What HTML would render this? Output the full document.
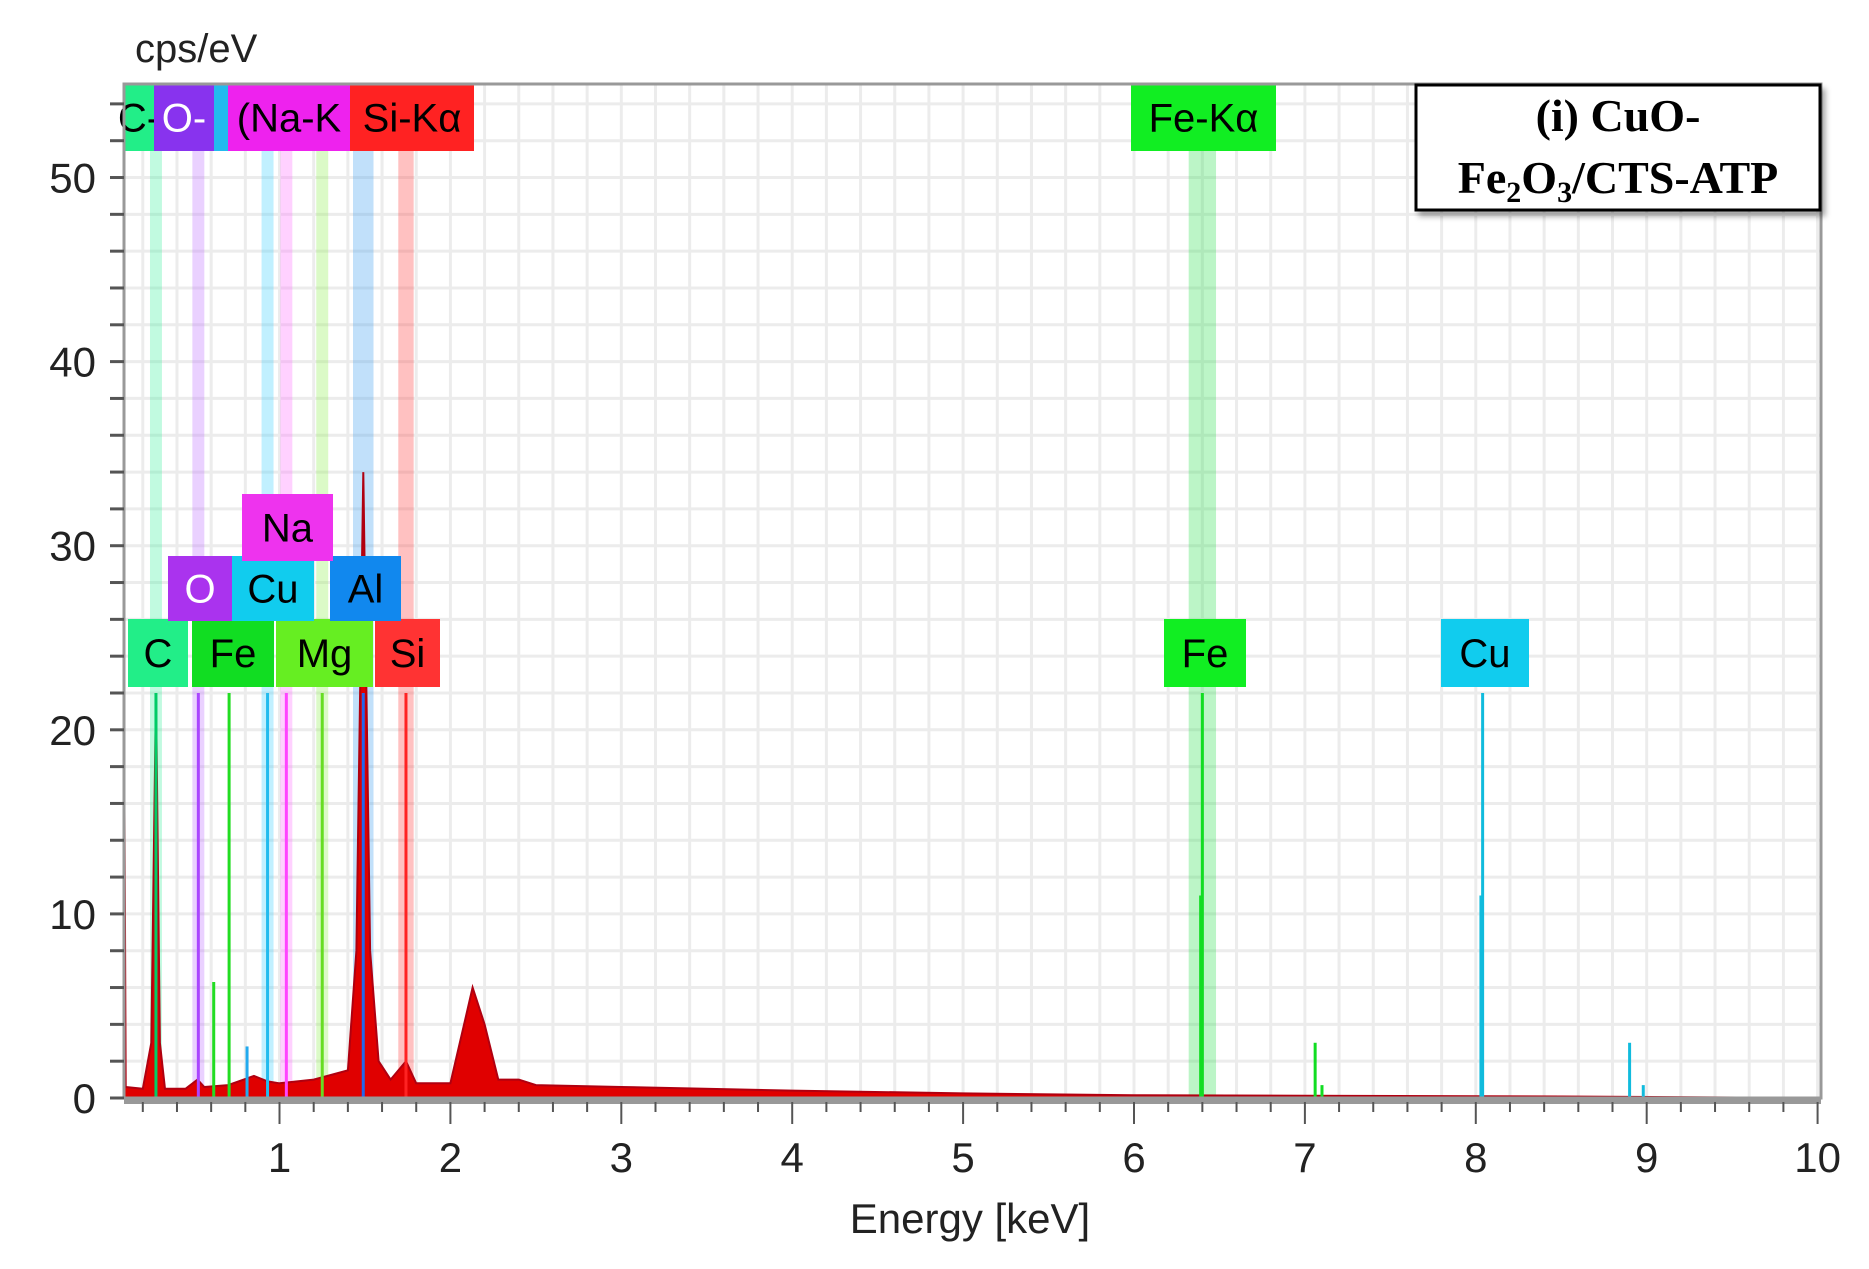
<!DOCTYPE html>
<html><head><meta charset="utf-8"><style>
body{margin:0;background:#fff;}
svg{display:block;font-family:"Liberation Sans",sans-serif;}
</style></head><body>
<svg id="chart" width="1869" height="1269" viewBox="0 0 1869 1269" xmlns="http://www.w3.org/2000/svg">
<g id="grid"></g>
<g id="bands"></g>
<g id="spec"></g>
<g id="lines"></g>
<g id="labels"></g>
<g id="axes"></g>
<text x="135" y="62" font-size="40" fill="#222">cps/eV</text>
<text x="970" y="1233" font-size="42" fill="#222" text-anchor="middle">Energy [keV]</text>
<g>
<rect x="1416" y="85" width="404" height="125" fill="#fff" stroke="#000" stroke-width="3" filter="drop-shadow(4px 5px 3px rgba(0,0,0,0.35))"/>
<text x="1618" y="131" font-family="'Liberation Serif',serif" font-weight="bold" font-size="46" text-anchor="middle">(i) CuO-</text>
<text x="1618" y="193" font-family="'Liberation Serif',serif" font-weight="bold" font-size="46" text-anchor="middle">Fe<tspan font-size="30" dy="9">2</tspan><tspan dy="-9">O</tspan><tspan font-size="30" dy="9">3</tspan><tspan dy="-9">/CTS-ATP</tspan></text>
</g>
</svg>
<script>
const specE=[0.09,0.1,0.2,0.25,0.277,0.3,0.33,0.45,0.52,0.56,0.7,0.85,0.93,1.0,1.2,1.4,1.45,1.49,1.53,1.58,1.65,1.74,1.8,2.0,2.08,2.13,2.2,2.28,2.4,2.5,3,4,5,6,7,8,8.5,10];
const specC=[22,0.6,0.5,3,22,3,0.5,0.5,1,0.6,0.7,1.2,0.9,0.8,1,1.5,8,34,8,2,1,2,0.8,0.8,4,6,4,1,1,0.7,0.6,0.4,0.25,0.15,0.12,0.1,0.08,0];
const bandE=[0.277,0.525,0.93,1.04,1.25,1.49,1.74,6.4];
const bandColor=['#33ee99','#bb66ff','#33ccff','#ff66ff','#88ee44','#3399ee','#ff3333','#22dd44'];
const bandW=[0.07,0.07,0.07,0.07,0.07,0.12,0.09,0.16];
const lineE=[0.277,0.525,0.615,0.705,0.81,0.93,1.04,1.25,1.49,1.74,6.4,6.39,7.06,7.1,8.04,8.03,8.9,8.98];
const lineH=[22,22,6.3,22,2.8,22,22,22,22,22,22,11,3,0.7,22,11,3,0.7];
const lineColor=['#00cc66','#aa44ff','#22dd22','#22dd22','#22aaee','#22bbee','#ff44ff','#66dd22','#2266ee','#ff2222','#11dd22','#11dd22','#11dd22','#11dd22','#11bbdd','#11bbdd','#11bbdd','#11bbdd'];
const xTicks=[1,2,3,4,5,6,7,8,9,10];
const yTicks=[0,10,20,30,40,50];
const X0=0.09,X1=10.02,Y0=0,Y1=55.08,L=124,R=1821,T=84,B=1098;
const sx=e=>L+(e-X0)/(X1-X0)*(R-L), sy=v=>B-(v-Y0)/(Y1-Y0)*(B-T);
const NS='http://www.w3.org/2000/svg';
function mk(p,t,a){const el=document.createElementNS(NS,t);for(const k in a)el.setAttribute(k,a[k]);p.appendChild(el);return el;}
const grid=document.getElementById('grid'),axes=document.getElementById('axes');
mk(grid,'rect',{x:L,y:T,width:R-L,height:B-T,fill:'#fff'});
for(let e=0.2;e<10;e+=0.2){const g=mk(grid,'line',{x1:sx(e),x2:sx(e),y1:T,y2:B,stroke:'#ececec','stroke-width':3});}
for(let v=2;v<55;v+=2){const g=mk(grid,'line',{x1:L,x2:R,y1:sy(v),y2:sy(v),stroke:'#ececec','stroke-width':3});}
const bands=document.getElementById('bands');
bandE.forEach((e,i)=>{const w=bandW[i]*(R-L)/(X1-X0);const r=mk(bands,'rect',{x:sx(e)-w/2,y:T,width:w,height:B-T,fill:bandColor[i],opacity:0.3});});
const spec=document.getElementById('spec');
let d='M'+sx(specE[0])+','+sy(0);specE.forEach((e,i)=>{d+=' L'+sx(e).toFixed(1)+','+sy(specC[i]).toFixed(1);});d+=' L'+sx(10)+','+sy(0)+'Z';
const sp=mk(spec,'path',{d:d,fill:'#e00000',stroke:'#b00010','stroke-width':2});


const lines=document.getElementById('lines');
lineE.forEach((e,i)=>{const l=mk(lines,'line',{x1:sx(e),x2:sx(e),y1:B,y2:sy(lineH[i]),stroke:lineColor[i],'stroke-width':3});});
const labs=[
[124,84,30,67,'#22ee88','C-','#000'],[154,84,60,67,'#8833ee','O-','#fff'],[214,84,14,67,'#22bbee','','#000'],[228,84,122,67,'#ee22ee','(Na-K','#000'],[350,84,124,67,'#ff2222','Si-Kα','#000'],
[1131,84,145,67,'#11ee22','Fe-Kα','#000'],
[128,619,60,68,'#22ee88','C','#000'],[192,619,82,68,'#11dd22','Fe','#000'],[276,619,97,68,'#66ee22','Mg','#000'],[375,619,65,68,'#ff3333','Si','#000'],
[168,556,64,65,'#aa33ee','O','#fff'],[232,556,82,65,'#11ccee','Cu','#000'],[330,556,71,65,'#1188ee','Al','#000'],
[242,494,91,67,'#ee33ee','Na','#000'],
[1164,619,82,68,'#11ee22','Fe','#000'],[1441,619,88,68,'#11ccee','Cu','#000']];
const lg=document.getElementById('labels');
labs.forEach(a=>{const g=mk(lg,'g',{});
mk(g,'rect',{x:a[0],y:a[1],width:a[2],height:a[3],fill:a[4]});
if(a[5]){const t=mk(g,'text',{x:a[0]+a[2]/2,y:a[1]+a[3]/2+14,'font-size':40,fill:a[6],'text-anchor':'middle'});t.textContent=a[5];}});
mk(axes,'rect',{x:L,y:T,width:R-L,height:B-T,fill:'none',stroke:'#999','stroke-width':3});
mk(axes,'line',{x1:L,x2:R,y1:B+3,y2:B+3,stroke:'#999','stroke-width':6});
for(let v=0;v<=54;v+=2){const t=mk(axes,'line',{x1:L-14,x2:L,y1:sy(v),y2:sy(v),stroke:'#555','stroke-width':3});}
yTicks.forEach(v=>{const t=mk(axes,'text',{x:96,y:sy(v)+15,'font-size':42,fill:'#222','text-anchor':'end'});t.textContent=v;});
for(let e=0.2;e<=10.01;e+=0.2){const maj=Math.abs(e-Math.round(e))<0.01;const t=mk(axes,'line',{x1:sx(e),x2:sx(e),y1:B+4,y2:B+(maj?26:14),stroke:'#555','stroke-width':2});}
xTicks.forEach(v=>{const t=mk(axes,'text',{x:sx(v),y:1172,'font-size':42,fill:'#222','text-anchor':'middle'});t.textContent=v;});
</script>
</body></html>
